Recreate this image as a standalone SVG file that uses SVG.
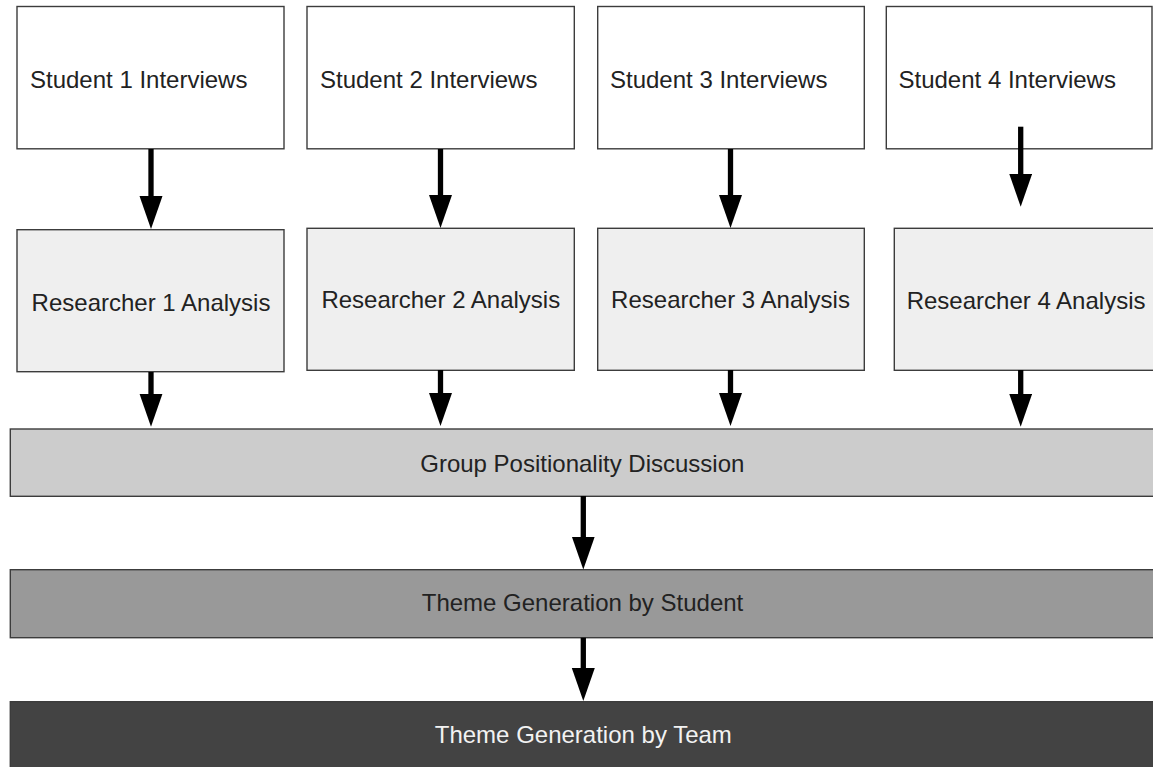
<svg xmlns="http://www.w3.org/2000/svg" width="1153" height="767" viewBox="0 0 1153 767">
<defs>
<style>
.box{stroke:#3c3c3c;stroke-width:1.4}
.stu{fill:#ffffff}
.res{fill:#efefef}
.grp{fill:#cccccc}
.ths{fill:#999999}
.tht{fill:#434343}
.t{font-family:"Liberation Sans",Arial,sans-serif;font-size:24px;fill:#222222}
.c{text-anchor:middle}
.w{fill:#f2f2f2}
.arr{stroke:#000;stroke-width:5.3;fill:none;marker-end:url(#ah)}
</style>
<marker id="ah" markerUnits="userSpaceOnUse" markerWidth="34" markerHeight="24" refX="13" refY="11.5" orient="auto">
<path d="M0,0 L33,11.5 L0,23 Z" fill="#000"/>
</marker>
</defs>
<rect width="1153" height="767" fill="#ffffff"/>

<g id="student1">
<rect class="box stu" x="17" y="6.5" width="267" height="142.3"/>
<text class="t" x="30" y="87.5">Student 1 Interviews</text>
</g>
<g id="student2">
<rect class="box stu" x="307" y="6.5" width="267.3" height="142.3"/>
<text class="t" x="320" y="87.5">Student 2 Interviews</text>
</g>
<g id="student3">
<rect class="box stu" x="597.7" y="6.5" width="266.6" height="142.3"/>
<text class="t" x="610" y="87.5">Student 3 Interviews</text>
</g>
<g id="student4">
<rect class="box stu" x="886.3" y="6.5" width="265.7" height="142.3"/>
<text class="t" x="898.5" y="87.5">Student 4 Interviews</text>
</g>

<g id="researcher1">
<rect class="box res" x="17" y="229.7" width="267" height="142"/>
<text class="t c" x="151" y="310.5">Researcher 1 Analysis</text>
</g>
<g id="researcher2">
<rect class="box res" x="307" y="228.3" width="267.3" height="142"/>
<text class="t c" x="440.8" y="308.3">Researcher 2 Analysis</text>
</g>
<g id="researcher3">
<rect class="box res" x="597.7" y="228.3" width="266.6" height="142"/>
<text class="t c" x="730.5" y="308.3">Researcher 3 Analysis</text>
</g>
<g id="researcher4">
<rect class="box res" x="894.3" y="228.3" width="270" height="142"/>
<text class="t" x="906.7" y="308.8">Researcher 4 Analysis</text>
</g>

<g id="group">
<rect class="box grp" x="10.3" y="429" width="1155" height="67.3"/>
<text class="t c" x="582.3" y="471.5">Group Positionality Discussion</text>
</g>
<g id="themeStudent">
<rect class="box ths" x="10.3" y="569.7" width="1155" height="68"/>
<text class="t c" x="582.5" y="611">Theme Generation by Student</text>
</g>
<g id="themeTeam">
<rect class="box tht" x="10.3" y="701.7" width="1155" height="80"/>
<text class="t c w" x="583.3" y="743.3">Theme Generation by Team</text>
</g>

<g id="connectors">
<line class="arr" x1="151" y1="149" x2="151" y2="209"/>
<line class="arr" x1="440.5" y1="149" x2="440.5" y2="208"/>
<line class="arr" x1="730.5" y1="149" x2="730.5" y2="208"/>
<line class="arr" x1="1020.7" y1="126.7" x2="1020.7" y2="186.7"/>
<line class="arr" x1="151" y1="372" x2="151" y2="406.7"/>
<line class="arr" x1="440.5" y1="370" x2="440.5" y2="406"/>
<line class="arr" x1="730.5" y1="370" x2="730.5" y2="406"/>
<line class="arr" x1="1020.7" y1="370" x2="1020.7" y2="406.7"/>
<line class="arr" x1="583.3" y1="496" x2="583.3" y2="549.5"/>
<line class="arr" x1="583.3" y1="637.7" x2="583.3" y2="681"/>
</g>
</svg>
